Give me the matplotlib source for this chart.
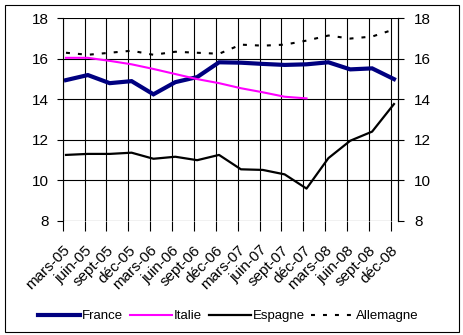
import numpy as np
import matplotlib
matplotlib.use("Agg")
import matplotlib.pyplot as plt
from matplotlib.patches import Rectangle

plt.rcParams['font.family'] = ['Liberation Sans', 'DejaVu Sans']

# trimestres
trimestres = ["mars-05", "juin-05", "sept-05", "déc-05",
              "mars-06", "juin-06", "sept-06", "déc-06",
              "mars-07", "juin-07", "sept-07", "déc-07",
              "mars-08", "juin-08", "sept-08", "déc-08"]

france = [14.95, 15.2, 14.8, 14.9, 14.25, 14.85, 15.1, 15.83,
          15.81, 15.75, 15.7, 15.73, 15.83, 15.48, 15.53, 15.0]
italie = [16.05, 16.05, 15.9, 15.73, 15.5, 15.25, 15.0, 14.8,
          14.55, 14.35, 14.13, 14.05, np.nan, np.nan, np.nan, np.nan]
espagne = [11.26, 11.31, 11.31, 11.37, 11.07, 11.17, 11.0, 11.26,
           10.55, 10.52, 10.3, 9.6, 11.1, 11.96, 12.41, 13.77]
allemagne = [16.3, 16.2, 16.3, 16.4, 16.2, 16.35, 16.3, 16.25,
             16.7, 16.65, 16.7, 16.9, 17.15, 17.0, 17.1, 17.45]

# axe en mois depuis mars-05, points au milieu du mois
n = len(trimestres)
x_ticks = np.arange(n) * 3
x = x_ticks + 0.45

fig = plt.figure(figsize=(4.64, 3.35), dpi=100)
ax = fig.add_axes([62.7 / 464, 1 - 221 / 335, 335 / 464, (221 - 18.3) / 335])

ax.plot(x, france, color='#000080', lw=3, label='France', solid_joinstyle='miter')
ax.plot(x, italie, color='#FF00FF', lw=1.5, label='Italie')
ax.plot(x, espagne, color='black', lw=1.6, label='Espagne')
ax.plot(x, allemagne, color='black', lw=1.5, linestyle=(0, (1.9, 3.85)), label='Allemagne')

ax.set_xlim(0, 45.96)
ax.set_ylim(8, 18)
ax.set_yticks(np.arange(8, 19, 2))
ax.set_xticks(x_ticks)
ax.set_xticklabels(trimestres, rotation=45, ha='right', va='top',
                   rotation_mode='anchor', fontsize=11)

ax.grid(True, color='black', lw=0.8)
ax.set_axisbelow(True)
for s in ['top', 'bottom']:
    ax.spines[s].set_visible(False)
ax.spines['left'].set_linewidth(0.8)
ax.tick_params(axis='y', direction='out', length=4, width=0.8, labelsize=11, pad=6)
ax.tick_params(axis='x', direction='out', length=7, width=0.8, pad=9)

# axe de droite
ax2 = ax.twinx()
ax2.set_ylim(8, 18)
ax2.set_yticks(np.arange(8, 19, 2))
for s in ['top', 'bottom', 'left']:
    ax2.spines[s].set_visible(False)
ax2.spines['right'].set_linewidth(0.8)
ax2.tick_params(axis='y', direction='out', length=4, width=0.8, labelsize=11, pad=8)

handles, labels = ax.get_legend_handles_labels()
fig.legend(handles, labels, loc='center', bbox_to_anchor=(228 / 464, 1 - 316 / 335),
           ncol=4, frameon=False, fontsize=9.5, handlelength=3.2,
           handletextpad=0.15, columnspacing=0.5)

# cadre du graphique
fig.patches.append(Rectangle((5 / 464, 1 - 332 / 335), 454 / 464, 327 / 335,
                             transform=fig.transFigure, fill=False,
                             edgecolor='black', lw=0.8))

fig.savefig('out.png', dpi=100)
